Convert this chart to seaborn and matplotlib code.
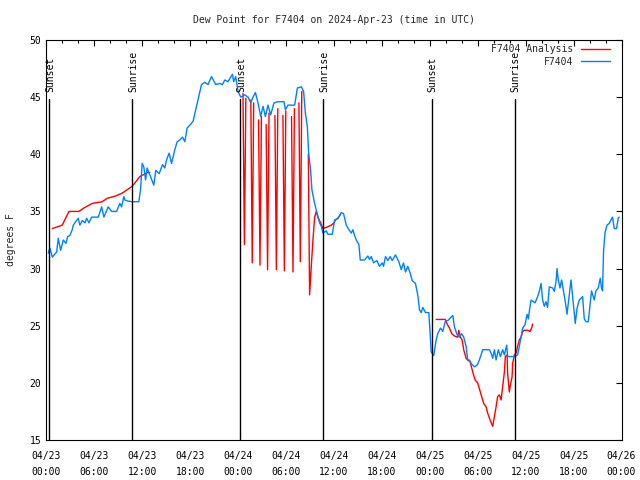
import pandas as pd
import seaborn as sns
import matplotlib.pyplot as plt
import matplotlib.dates as mdates

start = pd.Timestamp("2024-04-23 00:00")

# F7404 observations: hours after 04/23 00:00 UTC, dew point (F)
obs_hours = [0.25, 0.46, 0.75, 1.3, 1.5, 1.8, 2.13, 2.46, 2.68, 2.96, 3.25, 3.38, 3.68, 4.0, 4.21,
             4.5, 4.84, 5.05, 5.34, 5.68, 6.5, 6.93, 7.21, 7.75, 8.18, 8.8, 9.21, 9.43, 9.71, 9.84,
             10.25, 10.75, 11.59, 11.8, 12.0, 12.21, 12.43, 12.63, 12.96, 13.46, 13.71, 14.13, 14.55,
             14.84, 15.05, 15.38, 15.68, 16.09, 16.38, 16.71, 17.05, 17.34, 17.63, 18.05, 18.38, 18.71,
             19.0, 19.43, 19.84, 20.25, 20.68, 21.21, 21.71, 22.05, 22.34, 22.75, 23.3, 23.46, 23.71,
             24.0, 24.21, 24.34, 24.84, 25.25, 25.59, 25.88, 26.18, 26.5, 26.84, 27.13, 27.43, 27.75,
             28.09, 28.5, 29.0, 29.75, 29.93, 30.25, 31.09, 31.43, 31.93, 32.21, 32.43, 32.68, 32.84,
             33.09, 33.25, 33.59, 33.8, 34.21, 34.43, 34.63, 35.05, 35.25, 35.8, 36.09, 36.5, 36.93,
             37.21, 37.55, 37.88, 38.18, 38.38, 38.59, 38.8, 39.13, 39.3, 39.84, 40.25, 40.46, 40.68,
             40.96, 41.38, 41.71, 42.05, 42.21, 42.46, 42.75, 43.05, 43.3, 43.71, 44.13, 44.43, 44.71,
             44.96, 45.25, 45.55, 45.8, 46.21, 46.5, 46.71, 46.93, 47.13, 47.46, 47.88, 48.05, 48.18,
             48.5, 48.8, 49.0, 49.34, 49.63, 49.93, 50.34, 50.59, 50.88, 51.09, 51.43, 51.71, 52.0,
             52.25, 52.55, 52.75, 52.96, 53.18, 53.59, 53.93, 54.21, 54.63, 55.46, 55.68, 55.88, 56.09,
             56.3, 56.59, 56.84, 57.13, 57.34, 57.63, 57.75, 58.59, 59.0, 59.43, 59.63, 59.93, 60.18,
             60.34, 60.55, 60.68, 61.18, 61.5, 61.71, 61.93, 62.13, 62.34, 62.55, 62.75, 62.96, 63.38,
             63.59, 63.8, 63.93, 64.09, 64.3, 64.5, 64.75, 65.05, 65.18, 65.46, 65.68, 65.88, 66.09,
             66.21, 66.43, 66.71, 66.93, 67.13, 67.34, 67.55, 67.84, 68.09, 68.25, 68.59, 68.8, 69.09,
             69.34, 69.5, 69.63, 69.75, 69.93, 70.18, 70.46, 70.68, 70.88, 71.09, 71.38, 71.59, 71.71]
obs_dewpt = [31.35, 31.8, 31.0, 31.45, 32.65, 31.6, 32.5, 32.2, 32.8, 32.9, 33.4, 33.8, 34.1, 34.4, 33.8,
             34.2, 34.0, 34.4, 34.0, 34.5, 34.5, 35.4, 34.5, 35.4, 35.0, 35.0, 35.7, 35.4, 36.3, 36.0,
             35.9, 35.85, 35.85, 36.9, 39.2, 38.9, 37.75, 38.8, 38.2, 37.3, 38.6, 38.3, 39.1,
             38.8, 39.5, 40.1, 39.2, 40.4, 41.1, 41.25, 41.5, 41.1, 42.3, 42.6, 42.9, 43.9,
             44.75, 46.1, 46.3, 46.1, 46.8, 46.1, 46.2, 46.1, 46.5, 46.35, 47.0, 46.35, 46.8,
             45.5, 45.2, 45.0, 45.2, 45.0, 44.5, 45.0, 45.4, 44.5, 43.3, 44.2, 43.3, 44.3,
             43.45, 44.5, 44.6, 44.6, 43.9, 44.3, 44.3, 45.8, 45.9, 45.5, 43.6, 42.4, 40.1,
             38.6, 36.9, 35.7, 35.1, 34.0, 33.7, 33.1, 33.3, 33.0, 33.0, 34.25, 34.4, 34.9,
             34.8, 33.8, 33.4, 33.1, 33.4, 32.9, 32.5, 32.1, 30.75, 30.75, 31.1, 30.8, 31.05,
             30.5, 30.7, 30.2, 30.5, 30.2, 31.05, 30.7, 31.05, 30.7, 31.2, 30.6, 29.9, 30.5,
             29.7, 30.2, 29.6, 28.95, 28.7, 27.7, 26.4, 26.15, 26.6, 26.15, 26.15, 24.3, 22.7,
             22.4, 23.75, 24.3, 24.8, 24.5, 25.35, 25.5, 25.7, 25.9, 24.9, 24.2, 24.0, 24.3,
             24.0, 23.2, 22.0, 22.0, 21.7, 21.4, 21.55, 22.0, 22.9, 22.9, 22.6, 22.15, 22.9,
             22.0, 22.9, 22.3, 22.9, 22.45, 23.3, 22.3, 22.3, 22.45, 24.0, 24.8, 25.1, 26.0,
             25.6, 26.7, 27.25, 27.0, 27.55, 28.0, 28.7, 27.25, 26.7, 27.1, 26.6, 28.4, 28.3,
             28.0, 28.85, 30.0, 29.0, 28.3, 29.0, 28.0, 26.7, 26.0, 27.7, 29.0, 27.55, 26.0,
             25.2, 26.5, 27.25, 27.4, 27.55, 25.6, 25.35, 25.35, 27.0, 28.05, 27.25, 28.05, 28.3,
             29.15, 28.3, 28.05, 31.5, 33.1, 33.8, 33.95, 34.25, 34.5, 33.5, 33.5, 34.4, 34.5]

# F7404 Analysis, drawn as separate pieces (gaps between them)
ana_pieces = [
    ([0.75, 2.0, 2.84, 4.09, 4.71, 5.75, 7.0, 7.63, 8.68, 9.5, 10.13, 10.75, 11.38, 11.71, 12.13, 12.63, 12.96],
     [33.5, 33.8, 35.0, 35.0, 35.3, 35.7, 35.85, 36.15, 36.35, 36.6, 36.9, 37.2, 37.75, 38.05, 38.2, 38.4, 38.4]),
    ([24.62, 24.8, 24.98], [45.3, 32.1, 44.9]),
    ([25.6, 25.78, 25.96], [44.75, 30.5, 44.5]),
    ([26.57, 26.75, 26.93], [43.0, 30.3, 43.3]),
    ([27.52, 27.7, 27.88], [42.6, 29.9, 43.6]),
    ([28.62, 28.8, 28.98], [43.4, 29.9, 44.0]),
    ([29.62, 29.8, 29.98], [43.4, 29.8, 43.8]),
    ([30.7, 30.88, 31.06], [43.3, 29.7, 44.0]),
    ([31.62, 31.8, 31.98], [44.5, 30.6, 45.5]),
    ([32.8, 32.96, 33.17, 33.38, 33.59, 33.8, 34.0, 34.34, 34.63, 35.05, 35.67, 35.96, 36.21, 36.5, 36.8],
     [40.0, 27.7, 30.2, 32.5, 34.5, 35.0, 34.5, 34.0, 33.5, 33.6, 33.8, 33.95, 34.25, 34.4, 34.7]),
    ([48.8, 49.93, 50.18, 50.46, 50.75, 51.09, 51.5, 51.63, 51.84, 52.05, 52.25, 52.55, 52.75, 53.05,
      53.38, 53.68, 54.0, 54.43, 54.75, 55.05, 55.25, 55.55, 55.88, 56.09, 56.3, 56.5, 56.71, 56.93,
      57.13, 57.34, 57.46, 57.68, 57.75, 57.96, 58.09, 58.3, 58.38, 58.59, 58.8, 59.0, 59.21, 59.43,
      59.63, 59.84, 60.25, 60.55, 60.75, 60.88],
     [25.55, 25.55, 25.15, 24.8, 24.3, 24.1, 24.0, 24.6, 24.0, 23.75, 22.9, 22.15, 22.0, 21.85,
      20.95, 20.25, 20.0, 18.95, 18.2, 17.9, 17.35, 16.75, 16.2, 17.05, 17.9, 18.8, 18.95, 18.5,
      19.7, 20.95, 22.3, 22.45, 20.8, 19.2, 19.8, 20.5, 21.7, 22.45, 22.6, 23.2, 23.75, 24.0,
      24.5, 24.6, 24.6, 24.5, 24.8, 25.15]),
]

sun_hours = [0.375, 10.75, 24.25, 34.63, 48.25, 58.63]
sun_labels = ["Sunset", "Sunrise", "Sunset", "Sunrise", "Sunset", "Sunrise"]

rows = []
for h, v in zip(obs_hours, obs_dewpt):
    rows.append(("F7404", 0, h, v))
for i, (hs, vs) in enumerate(ana_pieces):
    for h, v in zip(hs, vs):
        rows.append(("F7404 Analysis", i, h, v))
df = pd.DataFrame(rows, columns=["series", "piece", "hours", "dewpt"])
df["time"] = start + pd.to_timedelta(df["hours"], unit="h")

sns.set_theme(style="white", rc={"axes.edgecolor": "black", "axes.linewidth": 0.8})
plt.rcParams["font.family"] = ["DejaVu Sans Mono"]

fig = plt.figure(figsize=(6.4, 4.8), dpi=100)
ax = fig.add_axes([0.0723, 0.0833, 0.8988, 0.8334])

sns.lineplot(data=df, x="time", y="dewpt", hue="series", units="piece", estimator=None,
             hue_order=["F7404 Analysis", "F7404"], palette=["#ff0000", "#0080ff"],
             linewidth=1.0, ax=ax)

# sunrise / sunset markers
for h, lab in zip(sun_hours, sun_labels):
    t = start + pd.Timedelta(hours=h)
    ax.plot([t, t], [15, 44.84], color="black", lw=1.0)
    ax.text(t + pd.Timedelta(hours=0.12), 45.45, lab, rotation=90, ha="center", va="bottom",
            fontsize=7, color="black")

ax.set_xlim(start, start + pd.Timedelta(hours=72))
ax.set_ylim(15, 50)
ax.set_yticks(range(15, 51, 5))
ax.xaxis.set_major_locator(mdates.HourLocator(byhour=[0, 6, 12, 18]))
ax.xaxis.set_minor_locator(mdates.HourLocator(byhour=range(0, 24, 2)))
ax.xaxis.set_major_formatter(mdates.DateFormatter("%m/%d\n%H:%M"))
ax.tick_params(which="both", direction="in", top=True, right=True, colors="black", labelsize=7)
ax.tick_params(which="major", length=4, width=0.8)
ax.tick_params(which="minor", length=2.5, width=0.8)
ax.tick_params(axis="x", pad=8)
plt.setp(ax.get_xticklabels(), linespacing=1.7)

ax.set_xlabel("")
ax.set_ylabel("degrees F", fontsize=7, labelpad=10)
ax.set_title("Dew Point for F7404 on 2024-Apr-23 (time in UTC)", fontsize=7, pad=12)

handles, labels = ax.get_legend_handles_labels()
ax.legend(handles, labels, loc="upper right", bbox_to_anchor=(0.98, 0.99), frameon=False,
          markerfirst=False, fontsize=7, handlelength=3.0, handletextpad=0.75,
          labelspacing=0.3, borderpad=0, borderaxespad=0)

plt.savefig("out.png", dpi=100)
